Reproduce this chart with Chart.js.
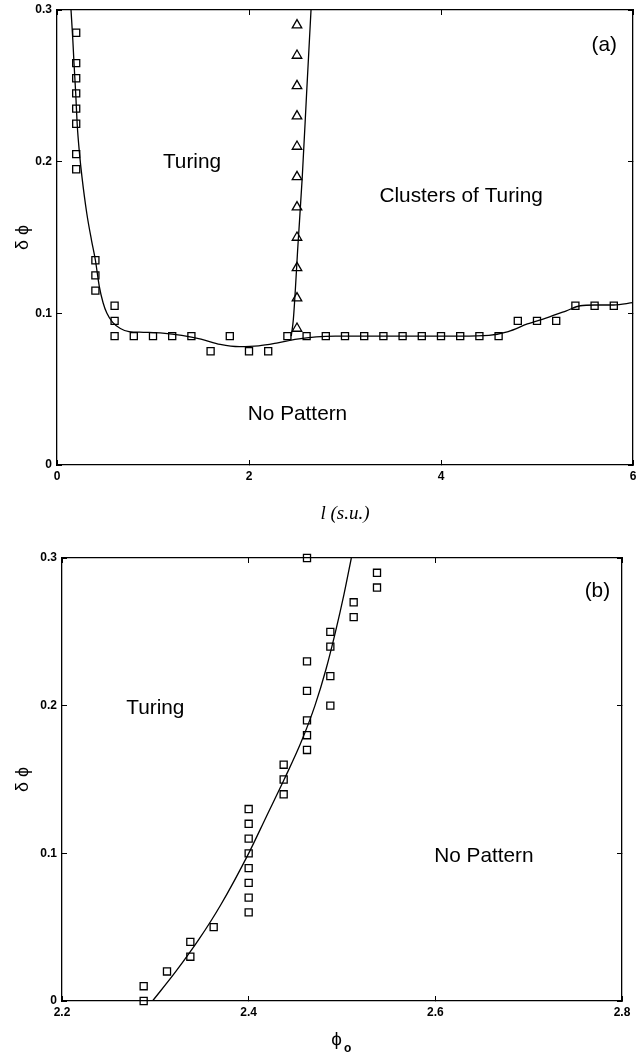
<!DOCTYPE html>
<html>
<head>
<meta charset="utf-8">
<script src="https://cdn.jsdelivr.net/npm/chart.js@4.4.0/dist/chart.umd.min.js"></script>
<style>
  html, body { margin: 0; background: #fff; overflow: hidden; }
  canvas { position: absolute; left: 0; }
  #graficaA { top: 0; }
  #graficaB { top: 530px; }
</style>
</head>
<body>
<canvas id="graficaA" width="642" height="530"></canvas>
<canvas id="graficaB" width="636" height="527"></canvas>
<script>
// (a) datos
const aTicksX = [0, 2, 4, 6];
const aTicksY = [0, 0.1, 0.2, 0.3];
const aSquareX = [0.2, 0.2, 0.2, 0.2, 0.2, 0.2, 0.2, 0.2, 0.4, 0.4, 0.4, 0.6, 0.6, 0.6,
  0.8, 1.0, 1.2, 1.4, 1.6, 1.8, 2.0, 2.2, 2.4, 2.6, 2.8, 3.0, 3.2, 3.4, 3.6, 3.8, 4.0, 4.2, 4.4, 4.6,
  4.8, 5.0, 5.2, 5.4, 5.6, 5.8];
const aSquareY = [0.285, 0.265, 0.255, 0.245, 0.235, 0.225, 0.205, 0.195, 0.135, 0.125, 0.115, 0.105, 0.095, 0.085,
  0.085, 0.085, 0.085, 0.085, 0.075, 0.085, 0.075, 0.075, 0.085, 0.085, 0.085, 0.085, 0.085, 0.085, 0.085, 0.085, 0.085, 0.085, 0.085, 0.085,
  0.095, 0.095, 0.095, 0.105, 0.105, 0.105];
const aTriX = [2.5, 2.5, 2.5, 2.5, 2.5, 2.5, 2.5, 2.5, 2.5, 2.5, 2.5];
const aTriY = [0.09, 0.11, 0.13, 0.15, 0.17, 0.19, 0.21, 0.23, 0.25, 0.27, 0.29];
const aCurve1X = [0.146, 0.165, 0.177, 0.195, 0.21, 0.235, 0.26, 0.31, 0.36, 0.40, 0.44, 0.48, 0.52, 0.58, 0.66, 0.75,
  0.9, 1.1, 1.3, 1.5, 1.7, 1.9, 2.1, 2.3, 2.5, 2.7, 2.9, 3.5, 4.2, 4.5, 4.7, 4.9, 5.1, 5.3, 5.45, 5.6, 5.8, 6.0];
const aCurve1Y = [0.300, 0.280, 0.265, 0.245, 0.225, 0.205, 0.190, 0.166, 0.148, 0.135, 0.118, 0.107, 0.100, 0.094, 0.090, 0.088,
  0.0875, 0.087, 0.0855, 0.083, 0.0795, 0.078, 0.0785, 0.0805, 0.083, 0.0845, 0.085, 0.085, 0.085, 0.0855, 0.088, 0.093, 0.097, 0.1015, 0.105, 0.1055, 0.1055, 0.107];
const aCurve2X = [2.44, 2.462, 2.51, 2.555, 2.60, 2.646];
const aCurve2Y = [0.085, 0.096, 0.145, 0.19, 0.245, 0.30];

// (b) datos
const bTicksX = [2.2, 2.4, 2.6, 2.8];
const bTicksY = [0, 0.1, 0.2, 0.3];
const bSquareX = [2.2875, 2.2875, 2.3125, 2.3375, 2.3375, 2.3625,
  2.4, 2.4, 2.4, 2.4, 2.4, 2.4, 2.4, 2.4,
  2.4375, 2.4375, 2.4375,
  2.4625, 2.4625, 2.4625, 2.4625, 2.4625, 2.4625,
  2.4875, 2.4875, 2.4875, 2.4875,
  2.5125, 2.5125, 2.5375, 2.5375];
const bSquareY = [0, 0.01, 0.02, 0.03, 0.04, 0.05,
  0.06, 0.07, 0.08, 0.09, 0.10, 0.11, 0.12, 0.13,
  0.14, 0.15, 0.16,
  0.17, 0.18, 0.19, 0.21, 0.23, 0.30,
  0.20, 0.22, 0.24, 0.25,
  0.26, 0.27, 0.28, 0.29];
const bCurveX = [2.297, 2.322, 2.347, 2.37, 2.40, 2.419, 2.438, 2.456, 2.471, 2.483, 2.493, 2.502, 2.51];
const bCurveY = [0, 0.02, 0.042, 0.065, 0.10, 0.125, 0.15, 0.175, 0.20, 0.225, 0.25, 0.275, 0.30];

const SANS = '"Liberation Sans", Arial, "DejaVu Sans", sans-serif';

function puntos(xs, ys) {
  return xs.map((x, i) => ({ x: x, y: ys[i] }));
}

function marcas(xs, ys, estilo, radio) {
  return {
    data: puntos(xs, ys),
    showLine: false,
    pointStyle: estilo,
    pointRadius: radio,
    pointBorderColor: '#000',
    pointBackgroundColor: 'rgba(0,0,0,0)',
    pointBorderWidth: 1.3,
    clip: false
  };
}

function curva(xs, ys) {
  return {
    data: puntos(xs, ys),
    showLine: true,
    borderColor: '#000',
    borderWidth: 1.3,
    pointRadius: 0,
    cubicInterpolationMode: 'monotone'
  };
}

// ejes al estilo matlab: ticks hacia dentro en los 4 lados
function eje(pos, min, max, ticks, tamano, extra) {
  const horizontal = pos === 'top' || pos === 'bottom';
  const principal = pos === 'bottom' || pos === 'left';
  return Object.assign({
    type: 'linear',
    position: pos,
    min: min,
    max: max,
    afterBuildTicks: s => { s.ticks = ticks.map(v => ({ value: v })); },
    afterFit: s => {
      if (horizontal) s.height = tamano; else s.width = tamano;
      s.paddingLeft = s.paddingRight = s.paddingTop = s.paddingBottom = 0;
    },
    grid: { drawOnChartArea: false, drawTicks: true, tickLength: -5, color: '#000', lineWidth: 1 },
    border: { display: true, color: '#000', width: 1.3 },
    ticks: {
      display: principal,
      padding: horizontal ? 9 : 10,
      color: '#000',
      font: { family: SANS, size: 12, weight: 'bold' }
    }
  }, extra || {});
}

const textosPlugin = {
  id: 'textos',
  afterDraw(chart, args, opts) {
    const { ctx, scales, chartArea } = chart;
    ctx.save();
    ctx.fillStyle = '#000';
    ctx.textAlign = 'center';
    ctx.textBaseline = 'alphabetic';
    ctx.font = '20.8px ' + SANS;
    (opts.notas || []).forEach(n => {
      ctx.fillText(n.texto, scales.x.getPixelForValue(n.x), scales.y.getPixelForValue(n.y));
    });
    if (opts.phiO) {
      const cx = (chartArea.left + chartArea.right) / 2;
      ctx.font = '19px ' + SANS;
      ctx.textAlign = 'right';
      ctx.fillText('\u03D5', cx, chart.height - 12);
      ctx.textAlign = 'left';
      ctx.font = 'bold 12px ' + SANS;
      ctx.fillText('o', cx + 2, chart.height - 5);
    }
    ctx.restore();
  }
};

const tituloY = {
  display: true,
  text: '\u03B4 \u03D5',
  color: '#000',
  font: { family: SANS, size: 18 },
  padding: { top: 12, bottom: 0 }
};

const comunes = {
  responsive: false,
  animation: false,
  events: []
};

// el lienzo (a) es algo mas ancho que la ventana: el "6" queda cortado como en el original
new Chart(document.getElementById('graficaA').getContext('2d'), {
  type: 'scatter',
  data: {
    datasets: [
      curva(aCurve1X, aCurve1Y),
      curva(aCurve2X, aCurve2Y),
      marcas(aSquareX, aSquareY, 'rect', 5),
      marcas(aTriX, aTriY, 'triangle', 5.5)
    ]
  },
  plugins: [textosPlugin],
  options: Object.assign({}, comunes, {
    layout: { padding: { top: 10, right: 9, bottom: 0, left: 0 } },
    plugins: {
      legend: { display: false },
      tooltip: { enabled: false },
      textos: {
        notas: [
          { texto: 'Turing', x: 1.406, y: 0.196 },
          { texto: 'Clusters of Turing', x: 4.21, y: 0.1734 },
          { texto: 'No Pattern', x: 2.505, y: 0.0297 },
          { texto: '(a)', x: 5.70, y: 0.273 }
        ]
      }
    },
    scales: {
      x: eje('bottom', 0, 6, aTicksX, 65, {
        title: {
          display: true,
          text: 'l (s.u.)',
          color: '#000',
          font: { family: '"Liberation Serif", "Times New Roman", serif', style: 'italic', size: 19 },
          padding: { top: 0, bottom: 5 }
        }
      }),
      x2: eje('top', 0, 6, aTicksX, 0),
      y: eje('left', 0, 0.3, aTicksY, 57, { title: tituloY }),
      y2: eje('right', 0, 0.3, aTicksY, 0)
    }
  })
});

new Chart(document.getElementById('graficaB').getContext('2d'), {
  type: 'scatter',
  data: {
    datasets: [
      curva(bCurveX, bCurveY),
      marcas(bSquareX, bSquareY, 'rect', 5)
    ]
  },
  plugins: [textosPlugin],
  options: Object.assign({}, comunes, {
    layout: { padding: { top: 28, right: 14, bottom: 0, left: 0 } },
    plugins: {
      legend: { display: false },
      tooltip: { enabled: false },
      textos: {
        phiO: true,
        notas: [
          { texto: '(b)', x: 2.7736, y: 0.2737 },
          { texto: 'Turing', x: 2.30, y: 0.1944 },
          { texto: 'No Pattern', x: 2.652, y: 0.0942 }
        ]
      }
    },
    scales: {
      x: eje('bottom', 2.2, 2.8, bTicksX, 56),
      x2: eje('top', 2.2, 2.8, bTicksX, 0),
      y: eje('left', 0, 0.3, bTicksY, 62, { title: tituloY }),
      y2: eje('right', 0, 0.3, bTicksY, 0)
    }
  })
});
</script>
</body>
</html>
